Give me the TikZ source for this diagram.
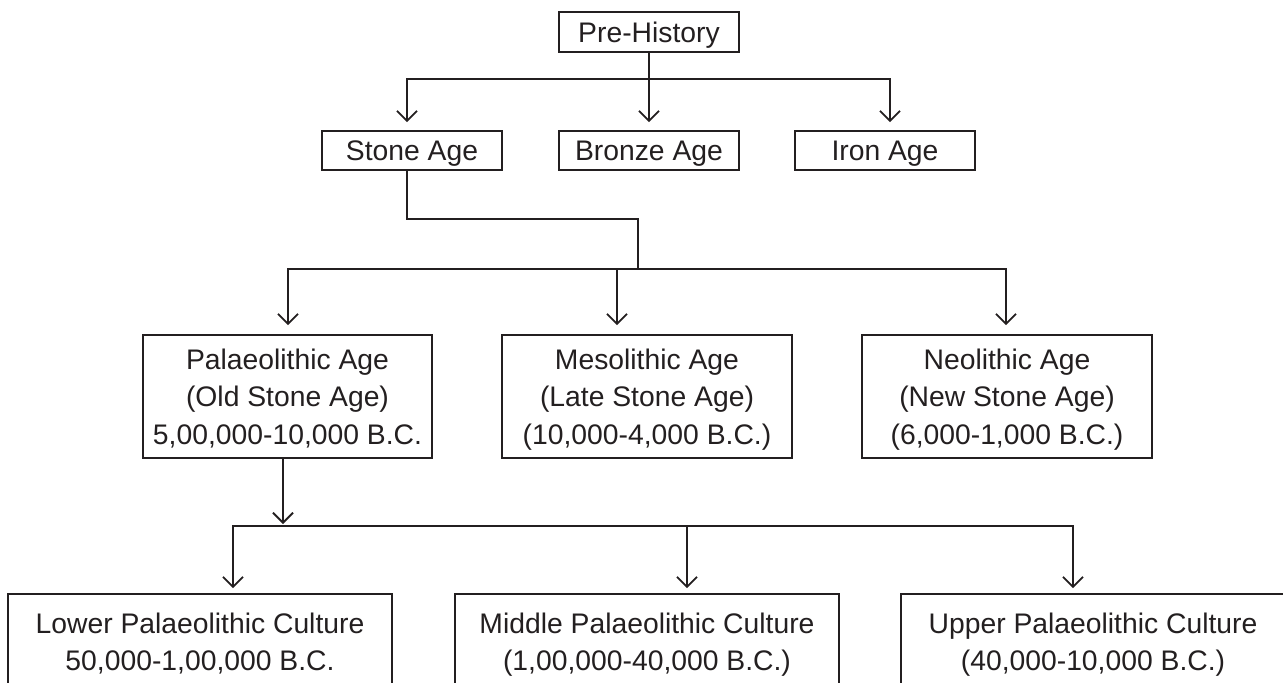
\documentclass[tikz,border=0pt]{standalone}
\usepackage{fontspec}
\setmainfont{Liberation Sans}
\usetikzlibrary{arrows.meta}
\definecolor{ink}{HTML}{231F20}
\begin{document}
\begin{tikzpicture}[x=1pt,y=-1pt,
  box/.style={draw=ink, line width=1.8pt, rectangle, inner sep=0pt, align=center,
    text=ink, text depth=0pt, font=\fontsize{28.3}{37.5}\selectfont},
  conn/.style={draw=ink, line width=1.8pt, line join=miter},
  arr/.style={conn, -{Straight Barb[length=10pt,width=20pt]}},
  arrtwo/.style={conn, {Straight Barb[length=10pt,width=20pt]}-{Straight Barb[length=10pt,width=20pt]}}]
\useasboundingbox (0,0) rectangle (1283,683);
\clip (0,0) rectangle (1283,683);
% nodes
\node[box, minimum width=180pt, minimum height=40pt] (pre) at (649,32) {Pre-History};
\node[box, minimum width=180pt, minimum height=39pt] (stone) at (412,150.5) {Stone Age};
\node[box, minimum width=180pt, minimum height=39pt] (bronze) at (649,150.5) {Bronze Age};
\node[box, minimum width=180pt, minimum height=39pt] (iron) at (885,150.5) {Iron Age};
\node[box, minimum width=289pt, minimum height=123pt] (palaeo) at (287.5,396.5) {Palaeolithic Age\\(Old Stone Age)\\5,00,000-10,000 B.C.};
\node[box, minimum width=290pt, minimum height=123pt] (meso) at (647,396.5) {Mesolithic Age\\(Late Stone Age)\\(10,000-4,000 B.C.)};
\node[box, minimum width=290pt, minimum height=123pt] (neo) at (1007,396.5) {Neolithic Age\\(New Stone Age)\\(6,000-1,000 B.C.)};
\node[box, minimum width=384pt, minimum height=95pt] (lower) at (200,641.5) {Lower Palaeolithic Culture\\50,000-1,00,000 B.C.};
\node[box, minimum width=384pt, minimum height=95pt] (middle) at (647,641.5) {Middle Palaeolithic Culture\\(1,00,000-40,000 B.C.)};
\node[box, minimum width=384pt, minimum height=95pt] (upper) at (1093,641.5) {Upper Palaeolithic Culture\\(40,000-10,000 B.C.)};
% junction points
\coordinate (tL) at (407,79);
\coordinate (tR) at (890,79);
\coordinate (s1) at (407,219);
\coordinate (s2) at (638,219);
\coordinate (mL) at (288,269);
\coordinate (mM) at (617,269);
\coordinate (mR) at (1006,269);
\coordinate (p1) at (283,526);
\coordinate (bL) at (233,526);
\coordinate (bM) at (687,526);
\coordinate (bR) at (1073,526);
% connectors
\draw[arrtwo, shorten <=8pt, shorten >=8pt] (tL |- stone.north) -- (tL) -- (tR) -- (tR |- iron.north);
\draw[arr, shorten >=8pt] (pre.south) -- (bronze.north);
\draw[conn] (stone.south -| s1) -- (s1) -- (s2) -- (s2 |- mL);
\draw[arrtwo, shorten <=9pt, shorten >=9pt] (mL |- palaeo.north) -- (mL) -- (mR) -- (mR |- neo.north);
\draw[arr, shorten >=9pt] (mM) -- (mM |- meso.north);
\draw[arr, shorten >=2pt] (palaeo.south -| p1) -- (p1);
\draw[arrtwo, shorten <=5pt, shorten >=5pt] (bL |- lower.north) -- (bL) -- (bR) -- (bR |- upper.north);
\draw[arr, shorten >=5pt] (bM) -- (bM |- middle.north);
\end{tikzpicture}
\end{document}
